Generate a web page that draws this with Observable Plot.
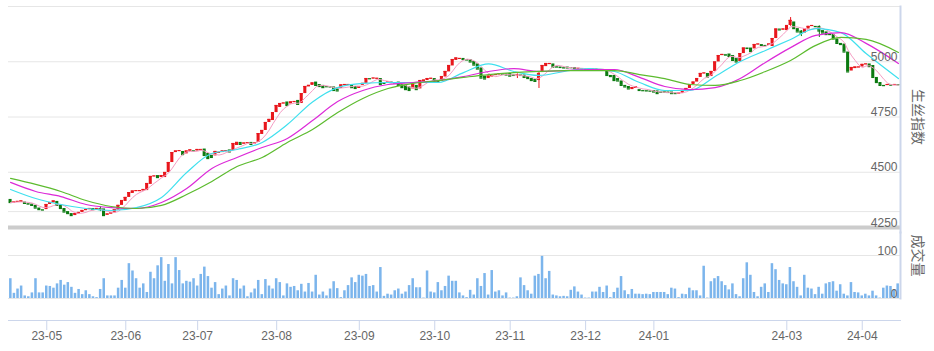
<!DOCTYPE html>
<html>
<head>
<meta charset="utf-8">
<script src="https://cdn.jsdelivr.net/npm/d3@7"></script>
<script src="https://cdn.jsdelivr.net/npm/@observablehq/plot@0.6"></script>
<style>
body { margin: 0; background: #fff; }
#chart { position: relative; width: 934px; height: 351px; font-family: "Liberation Sans", "Noto Sans CJK SC", sans-serif; }
#chart svg { position: absolute; left: 0; }
</style>
</head>
<body>
<div id="chart"></div>
<script>
// ---- data (one entry per trading day) ----
const opens = [4377,4363,4365,4363,4365,4359,4356,4350,4338,4331,
4331,4354,4361,4368,4350,4336,4322,4313,4304,4311,
4318,4327,4331,4336,4331,4336,4334,4306,4311,4316,
4329,4350,4368,4386,4404,4415,4415,4415,4417,4445,
4481,4485,4476,4476,4499,4544,4589,4596,4594,4583,
4596,4598,4596,4601,4605,4585,4576,4574,4589,4589,
4596,4601,4598,4621,4635,4628,4632,4635,4628,4635,
4671,4689,4725,4734,4770,4793,4811,4818,4809,4818,
4825,4811,4856,4886,4893,4908,4897,4893,4888,4888,
4886,4881,4879,4893,4893,4897,4888,4879,4893,4902,
4924,4924,4924,4924,4904,4908,4908,4906,4908,4897,
4893,4886,4877,4893,4877,4911,4915,4924,4924,4911,
4911,4931,4954,4981,5006,5015,5015,5010,5010,5001,
4990,4972,4935,4924,4931,4938,4942,4945,4945,4947,
4940,4940,4940,4940,4933,4924,4920,4915,4951,4978,
4988,4990,4978,4976,4974,4976,4974,4974,4969,4969,
4967,4960,4967,4967,4965,4965,4960,4938,4938,4924,
4913,4893,4888,4874,4879,4874,4870,4870,4868,4870,
4868,4863,4865,4863,4863,4858,4856,4856,4870,4879,
4897,4908,4929,4947,4947,4933,4956,4999,5028,5033,
5035,5028,5015,5001,5037,5062,5062,5058,5078,5078,
5074,5074,5069,5105,5148,5144,5141,5164,5180,5150,
5139,5130,5148,5160,5160,5160,5141,5135,5126,5123,
5103,5083,5080,5044,4958,4969,4974,4976,4988,4990,
4983,4929,4906,4893,4893,4895,4893,4897];

const closes = [4363,4365,4368,4370,4359,4356,4350,4338,4331,4329,
4354,4363,4370,4350,4336,4320,4313,4304,4313,4318,
4327,4331,4336,4331,4336,4331,4304,4311,4316,4331,
4350,4372,4386,4408,4415,4417,4417,4422,4449,4481,
4483,4476,4485,4499,4544,4589,4596,4598,4580,4596,
4601,4596,4603,4603,4576,4562,4567,4594,4590,4596,
4598,4592,4630,4635,4626,4632,4634,4626,4632,4675,
4689,4725,4739,4770,4802,4811,4813,4802,4818,4820,
4807,4856,4888,4893,4904,4893,4888,4883,4887,4886,
4870,4868,4895,4897,4897,4883,4879,4888,4902,4924,
4923,4926,4925,4897,4902,4909,4906,4904,4893,4883,
4874,4870,4897,4874,4915,4917,4924,4925,4911,4910,
4933,4956,4983,5010,5017,5015,5010,5008,4999,4985,
4967,4926,4922,4935,4938,4942,4945,4944,4940,4935,
4938,4941,4938,4929,4924,4915,4911,4947,4983,4992,
4992,4976,4976,4974,4972,4972,4973,4969,4970,4967,
4966,4969,4968,4965,4964,4963,4938,4933,4915,4913,
4893,4886,4877,4883,4886,4870,4869,4868,4867,4863,
4856,4862,4863,4861,4856,4856,4858,4870,4879,4897,
4908,4924,4947,4949,4931,4956,4999,5028,5033,5030,
5024,5006,4999,5037,5062,5060,5046,5078,5080,5074,
5073,5080,5105,5148,5144,5148,5164,5187,5150,5135,
5130,5148,5160,5164,5159,5139,5130,5123,5123,5103,
5083,5078,5044,4954,4974,4976,4976,4988,4990,4978,
4929,4906,4893,4892,4897,4894,4897,4896];

const volumes = [46,12,22,29,6,4,13,46,13,13, 29,28,24,34,42,31,37,26,12,21,
9,18,9,4,2,21,46,6,6,6, 24,42,24,81,64,46,24,34,14,61,
46,76,95,40,79,34,95,65,34,40, 38,46,29,56,73,51,24,37,9,22,
29,6,46,42,22,29,4,13,22,42, 9,44,29,22,46,37,6,34,26,28, 18,
33,15,35,15,54,8,15,6,22,39, 23,2,18,30,48,37,54,52,56,28,
30,15,72,5,10,8,18,22,10,15, 30,46,25,25,1,64,15,13,37,18,
28,52,40,40,13,6,2,19,8,46, 28,58,8,65,15,18,6,13,1,1,
4,48,30,18,10,52,56,98,46,63, 8,6,4,5,4,19,27,15,8,1, 1,15,15,
26,14,29,2,14,24,51,18,9,21, 10,10,9,10,9,14,14,14,14,9,
24,22,2,10,9,24,18,18,6,75, 1,39,46,51,39,30,20,34,9,4,
46,83,54,14,4,26,34,14,81,67, 42,34,32,72,39,26,6,54,24,22,
9,26,10,34,37,39,17,32,10,6, 37,14,13,6,10,6,17,6,1,24,
29,28,20,34];

// visible shadows (wicks)
const wickIdx  = [25, 141, 147, 217, 220, 225];
const wickHigh = [4345, 4945, 4951, 5200, 5141, 5162];
const wickLow  = [4322, 4924, 4879, 5160, 5114, 5110];

// moving averages at sample days
const maIdx = [0,7,14,21,28,35,42,49,56,63,70,77,84,91,98,105,112,119,126,133,140,147,154,161,168,175,182,189,196,203,210,217,224,231,238,247];
const ma10 = [4422,4381,4354,4336,4327,4340,4386,4499,4585,4603,4635,4716,4818,4883,4902,4906,4906,4906,4951,4990,4956,4938,4956,4969,4956,4906,4870,4870,4933,5001,5051,5101,5150,5132,5037,4924];
const ma20 = [4454,4413,4390,4354,4340,4336,4363,4426,4517,4567,4612,4653,4734,4820,4870,4897,4906,4915,4933,4956,4969,4956,4960,4965,4965,4929,4888,4874,4883,4924,4997,5064,5119,5132,5083,4992];
const ma30 = [4472,4445,4413,4372,4345,4336,4350,4399,4458,4526,4567,4635,4693,4770,4834,4879,4902,4915,4929,4942,4951,4956,4960,4960,4960,4942,4924,4897,4893,4915,4956,5006,5074,5110,5101,5042];

const priceTicks = [4250, 4500, 4750, 5000];
const priceGrid = [4322, 4500, 4750, 5000, 5250];
const volTicks = [0, 100];
const monthIdx = [10, 32, 52, 74, 97, 118, 139, 160, 179, 216, 237];
const monthLabels = ["23-05","23-06","23-07","23-08","23-09","23-10","23-11","23-12","24-01","24-03","24-04"];

// ---- derived tables ----
const N = opens.length;
const days = d3.range(N);
const candles = opens.map((o, k) => ({i: k, open: o, close: closes[k]}));
const wicks = wickIdx.map((k, j) => ({i: k, high: wickHigh[j], low: wickLow[j], open: opens[k], close: closes[k]}));
const maRows = maIdx.map((k, j) => ({i: k, ma10: ma10[j], ma20: ma20[j], ma30: ma30[j]}));
const volRows = volumes.map((v, k) => ({i: k, v}));

const RED = "#e8161c", GREEN = "#0b7a10";
const colorOf = d => d.close >= d.open ? RED : GREEN;
const FONT = '"Liberation Sans", "Noto Sans CJK SC", sans-serif';
const TXT = "#666666";
const AXIS = "#ccd6eb";

const topPlot = Plot.plot({
  width: 934, height: 232,
  marginLeft: 8, marginRight: 34, marginTop: 6, marginBottom: 5,
  style: {fontFamily: FONT, fontSize: "12px", background: "transparent", overflow: "visible"},
  x: {type: "band", domain: days, padding: 0.15, axis: null},
  y: {domain: [4250, 5250], axis: null},
  marks: [
    Plot.ruleY(priceGrid, {stroke: "#e6e6e6", strokeWidth: 1}),
    Plot.ruleY([4250], {stroke: "#cccccc", strokeWidth: 4}),
    Plot.ruleX(wicks, {x: "i", y1: "low", y2: "high", stroke: colorOf, strokeWidth: 1}),
    Plot.barY(candles, {x: "i", y1: "open", y2: "close", fill: colorOf}),
    Plot.tickY(candles, {x: "i", y: "close", stroke: colorOf, strokeWidth: 1.2}),
    Plot.lineY(candles, Plot.windowY({k: 5, anchor: "end"}, {x: "i", y: "close", stroke: "#f59cc3", strokeWidth: 1})),
    Plot.line(maRows, {x: "i", y: "ma10", stroke: "#3fe0ee", strokeWidth: 1.2, curve: "monotone-x"}),
    Plot.line(maRows, {x: "i", y: "ma20", stroke: "#dc2ad8", strokeWidth: 1.2, curve: "monotone-x"}),
    Plot.line(maRows, {x: "i", y: "ma30", stroke: "#5cbb2e", strokeWidth: 1.2, curve: "monotone-x"}),
    Plot.text(priceTicks, {y: d => d, text: d => String(d), frameAnchor: "right", textAnchor: "end", lineAnchor: "bottom", dx: -3, dy: -1, fill: TXT, fontSize: 12}),
    Plot.frame({anchor: "right", stroke: AXIS, strokeWidth: 2, insetBottom: -5}),
    Plot.text(["生丝指数"], {frameAnchor: "right", dx: 17, rotate: 90, textAnchor: "middle", lineAnchor: "middle", fill: TXT, fontSize: 14})
  ]
});

const bottomPlot = Plot.plot({
  width: 934, height: 119,
  marginLeft: 8, marginRight: 34, marginTop: 23, marginBottom: 31,
  style: {fontFamily: FONT, fontSize: "12px", background: "transparent", overflow: "visible"},
  x: {type: "band", domain: days, padding: 0.3, axis: null, label: null},
  y: {domain: [0, 100], insetBottom: 22, axis: null},
  marks: [
    Plot.ruleY(volTicks, {stroke: "#e6e6e6", strokeWidth: 1}),
    Plot.barY(volRows, {x: "i", y: "v", fill: "#7cb5ec"}),
    Plot.frame({anchor: "bottom", stroke: AXIS, strokeWidth: 1}),
    Plot.axisX({ticks: monthIdx, tickFormat: d => monthLabels[monthIdx.indexOf(d)], tickSize: 10, tickPadding: 1, stroke: AXIS, fill: TXT, fontSize: 12, label: null}),
    Plot.text(volTicks, {y: d => d, text: d => String(d), frameAnchor: "right", textAnchor: "end", lineAnchor: "bottom", dx: -3, dy: -1, fill: TXT, fontSize: 12}),
    Plot.frame({anchor: "right", stroke: AXIS, strokeWidth: 2, insetTop: -23, insetBottom: 22}),
    Plot.text(["成交量"], {frameAnchor: "top-right", dx: 17, rotate: 90, textAnchor: "middle", lineAnchor: "middle", fill: TXT, fontSize: 14})
  ]
});

const chart = document.getElementById("chart");
topPlot.style.top = "0px";
bottomPlot.style.top = "232px";
chart.appendChild(topPlot);
chart.appendChild(bottomPlot);
</script>
</body>
</html>
